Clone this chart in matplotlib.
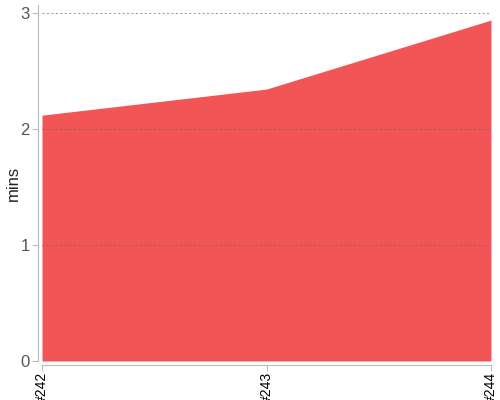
import matplotlib
matplotlib.use('Agg')
import matplotlib.pyplot as plt

plt.rcParams['font.family'] = ['Liberation Sans', 'DejaVu Sans']

# build labels and duration values (minutes)
builds = ['#242', '#243', '#244']
mins = [2.12, 2.345, 2.94]

fig = plt.figure(figsize=(5, 4), dpi=100)
ax = fig.add_axes([0.084, 0.0975, 0.898, 0.89])

x = list(range(len(builds)))
ax.fill_between(x, mins, 0, color='#f25555', linewidth=0, zorder=1)

ax.set_xlim(0, len(builds) - 1)
ax.set_ylim(0, 3.07)
ax.set_yticks([0, 1, 2, 3])
ax.set_xticks(x)
ax.set_xticklabels(builds, fontsize=7, color='#111111')
ax.tick_params(axis='x', labelrotation=90, length=4, color='#bbbbbb', pad=1)
ax.tick_params(axis='y', labelsize=12, labelcolor='#555555', length=4, color='#bbbbbb', pad=2)

ax.grid(axis='y', linestyle=(0, (2, 2)), color='#666666', linewidth=0.8, alpha=0.6, zorder=5)
ax.set_axisbelow(False)

for side in ['top', 'right']:
    ax.spines[side].set_visible(False)
for side in ['left', 'bottom']:
    ax.spines[side].set_color('#bbbbbb')
    ax.spines[side].set_position(('outward', 3))

ax.set_ylabel('mins', fontsize=12, color='#222222', va='center')
ax.yaxis.set_label_coords(-0.064, 0.5)

fig.savefig('out.png', dpi=100)
